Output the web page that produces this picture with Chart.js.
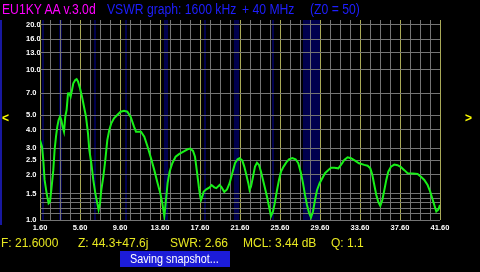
<!DOCTYPE html>
<html>
<head>
<meta charset="utf-8">
<script src="https://cdn.jsdelivr.net/npm/chart.js@4/dist/chart.umd.min.js"></script>
<style>
  html, body { margin: 0; padding: 0; background: #000; width: 480px; height: 272px; overflow: hidden; }
  #wrap { position: relative; width: 480px; height: 272px; }
  canvas { position: absolute; left: 0; top: 0; }
  .txt { position: absolute; white-space: pre; font-family: 'Liberation Sans', Arial, sans-serif; transform-origin: 0 0; }
  .title { top: 1.5px; font-size: 14px; line-height: 14px; transform: scaleX(0.87); }
  .foot { top: 237px; font-size: 12px; line-height: 12px; color: #e8e820; }
  .arrow { top: 112px; font-size: 12px; line-height: 12px; font-weight: bold; color: #ffff00; }
  #snap { position: absolute; left: 120px; top: 251px; width: 110px; height: 16px; background: #1c1cd8; }
  #edge { position: absolute; left: 0; top: 20px; width: 2px; height: 205px; background: #1818a0; }
</style>
</head>
<body>
<div id="wrap">
  <canvas id="swrChart" width="480" height="272"></canvas>
  <div id="edge"></div>
  <span class="txt title" style="left:2px; color:#ff00ff;">EU1KY AA v.3.0d</span>
  <span class="txt title" style="left:107px; color:#1e1eff;">VSWR graph: 1600 kHz</span>
  <span class="txt title" style="left:242px; color:#1e1eff;">+ 40 MHz</span>
  <span class="txt title" style="left:310px; color:#1e1eff;">(Z0 = 50)</span>
  <span class="txt arrow" style="left:2px;">&lt;</span>
  <span class="txt arrow" style="left:465px;">&gt;</span>
  <span class="txt foot" style="left:1px;">F: 21.6000</span>
  <span class="txt foot" style="left:78px;">Z: 44.3+47.6j</span>
  <span class="txt foot" style="left:170px;">SWR: 2.66</span>
  <span class="txt foot" style="left:243px;">MCL: 3.44 dB</span>
  <span class="txt foot" style="left:331px;">Q: 1.1</span>
  <div id="snap"></div>
  <span class="txt foot" style="left:130px; top:253px; color:#fff; transform:scaleX(0.9);">Saving snapshot...</span>
</div>
<script>
// sweep
const freqMHz = [
  1.60, 1.80, 1.93, 2.06, 2.26, 2.46, 2.60, 2.73, 2.93, 3.06,
  3.20, 3.33, 3.46, 3.60, 3.73, 3.86, 4.00, 4.13, 4.26, 4.40,
  4.53, 4.66, 4.80, 4.93, 5.13, 5.26, 5.40, 5.60, 5.80, 6.00,
  6.20, 6.40, 6.53, 6.73, 6.93, 7.13, 7.33, 7.46, 7.60, 7.73,
  7.93, 8.13, 8.33, 8.53, 8.73, 9.00, 9.33, 9.66, 10.00, 10.33,
  10.66, 11.00, 11.20, 11.70, 12.03, 12.36, 12.70, 13.03, 13.36, 13.63,
  13.83, 13.96, 14.03, 14.10, 14.23, 14.36, 14.56, 14.83, 15.16, 15.50,
  15.90, 16.36, 16.63, 16.90, 17.10, 17.23, 17.36, 17.50, 17.63, 17.70,
  17.83, 17.96, 18.23, 18.56, 18.76, 19.03, 19.23, 19.56, 19.76, 20.03,
  20.30, 20.56, 20.83, 21.10, 21.36, 21.56, 21.83, 22.03, 22.23, 22.43,
  22.56, 22.70, 22.90, 23.10, 23.30, 23.50, 23.70, 23.90, 24.10, 24.30,
  24.50, 24.70, 24.90, 25.10, 25.30, 25.50, 25.70, 25.96, 26.23, 26.50,
  26.83, 27.16, 27.43, 27.70, 27.90, 28.10, 28.30, 28.50, 28.70, 28.90,
  29.10, 29.30, 29.56, 29.83, 30.10, 30.36, 30.70, 31.03, 31.43, 31.70,
  32.03, 32.36, 32.70, 33.10, 33.50, 34.03, 34.36, 34.63, 34.83, 35.03,
  35.23, 35.43, 35.63, 35.83, 36.03, 36.23, 36.43, 36.70, 37.03, 37.36,
  37.70, 38.03, 38.36, 38.90, 39.36, 39.70, 40.03, 40.36, 40.63, 40.83,
  41.03, 41.23, 41.43, 41.60
];
const swrValues = [
  3.41, 3.08, 2.51, 1.85, 1.51, 1.29, 1.32, 1.58, 2.15, 2.93,
  3.59, 4.19, 4.64, 4.88, 4.64, 4.19, 3.88, 4.90, 5.41, 6.99,
  7.00, 6.64, 7.36, 8.15, 8.58, 8.68, 8.38, 7.55, 6.64, 5.69,
  4.88, 3.78, 2.93, 2.39, 1.85, 1.51, 1.29, 1.17, 1.29, 1.58,
  1.94, 2.51, 3.41, 3.98, 4.41, 4.76, 5.01, 5.27, 5.35, 5.27,
  4.88, 4.19, 3.88, 3.88, 3.59, 3.08, 2.58, 2.15, 1.76, 1.51,
  1.29, 1.14, 1.06, 1.17, 1.43, 1.76, 2.10, 2.39, 2.64, 2.75,
  2.85, 2.96, 2.99, 2.89, 2.64, 2.27, 1.94, 1.63, 1.43, 1.36,
  1.43, 1.54, 1.60, 1.65, 1.71, 1.65, 1.63, 1.71, 1.65, 1.54,
  1.60, 1.76, 2.05, 2.39, 2.54, 2.58, 2.49, 2.27, 2.00, 1.76,
  1.58, 1.67, 1.94, 2.27, 2.41, 2.33, 2.10, 1.85, 1.63, 1.43,
  1.23, 1.06, 1.14, 1.32, 1.58, 1.85, 2.10, 2.27, 2.42, 2.54,
  2.59, 2.54, 2.39, 2.05, 1.76, 1.47, 1.26, 1.12, 1.04, 1.14,
  1.36, 1.58, 1.76, 1.90, 2.05, 2.13, 2.23, 2.23, 2.21, 2.33,
  2.51, 2.62, 2.58, 2.49, 2.39, 2.33, 2.30, 2.21, 2.00, 1.71,
  1.47, 1.32, 1.24, 1.36, 1.58, 1.85, 2.10, 2.27, 2.34, 2.32,
  2.25, 2.15, 2.05, 2.04, 2.03, 1.94, 1.85, 1.71, 1.54, 1.39,
  1.26, 1.14, 1.17, 1.26
];

const yTickValues = [1, 1.1, 1.2, 1.3, 1.4, 1.5, 2, 2.5, 3, 4, 5, 7, 10, 13, 16, 20];
const yTickLabels = ['1.0', '', '', '', '', '1.5', '2.0', '2.5', '3.0', '4.0', '5.0', '7.0', '10.0', '13.0', '16.0', '20.0'];
const xTickLabels = ['1.60', '5.60', '9.60', '13.60', '17.60', '21.60', '25.60', '29.60', '33.60', '37.60', '41.60'];

// ham bands shaded blue
const bandStart = [1.8, 3.5, 7.0, 10.1, 14.0, 18.068, 21.0, 24.89, 28.0];
const bandEnd = [2.0, 3.8, 7.2, 10.15, 14.35, 18.168, 21.45, 24.99, 29.7];

const xMin = 1.6, xMax = 41.6, yMax = 21.54;
const gridFreqs = [];
for (let i = 0; i <= 40; i++) gridFreqs.push(Math.round((xMin + i) * 100) / 100);

const tickFont = { family: "'Liberation Sans', Arial, sans-serif", size: 7.5, weight: 'bold' };

const bandPlugin = {
  id: 'hamBands',
  beforeDraw(chart) {
    const { ctx, chartArea, scales } = chart;
    ctx.save();
    ctx.fillStyle = '#00004e';
    bandStart.forEach(function(s, i) {
      var x1 = Math.floor(scales.x.getPixelForValue(s));
      var x2 = Math.ceil(scales.x.getPixelForValue(bandEnd[i]));
      ctx.fillRect(x1, chartArea.top, Math.max(x2 - x1, 2), chartArea.bottom - chartArea.top);
    });
    ctx.restore();
  }
};

const points = freqMHz.map(function(f, i) { return { x: f, y: swrValues[i] }; });

new Chart(document.getElementById('swrChart').getContext('2d'), {
  type: 'line',
  data: {
    datasets: [{
      data: points,
      borderColor: '#18f018',
      borderWidth: 2,
      pointRadius: 0,
      tension: 0
    }]
  },
  options: {
    responsive: false,
    animation: false,
    devicePixelRatio: 1,
    layout: { padding: { left: 26, right: 40, top: 20, bottom: 0 } },
    plugins: { legend: { display: false }, tooltip: { enabled: false } },
    scales: {
      x: {
        type: 'linear', min: xMin, max: xMax,
        afterBuildTicks: function(s) { s.ticks = gridFreqs.map(function(v) { return { value: v }; }); },
        afterFit: function(s) { s.height = 52; },
        border: { display: false },
        grid: {
          color: function(c) { return c.index % 4 === 0 ? '#a8a858' : '#747474'; },
          lineWidth: 1, drawTicks: false
        },
        ticks: {
          autoSkip: false, maxRotation: 0, padding: 3, color: '#ffffff', font: tickFont,
          callback: function(v, i) { return i % 4 === 0 ? xTickLabels[i / 4] : ''; }
        }
      },
      y: {
        type: 'logarithmic', min: 1, max: yMax,
        afterBuildTicks: function(s) { s.ticks = yTickValues.map(function(v) { return { value: v }; }); },
        afterFit: function(s) { s.width = 14; },
        border: { display: false },
        grid: { color: '#747474', lineWidth: 1, drawTicks: false },
        ticks: {
          autoSkip: false, padding: 0, crossAlign: 'far', color: '#ffffff', font: tickFont,
          callback: function(v, i) { return yTickLabels[i]; }
        }
      }
    }
  },
  plugins: [bandPlugin]
});
</script>
</body>
</html>
